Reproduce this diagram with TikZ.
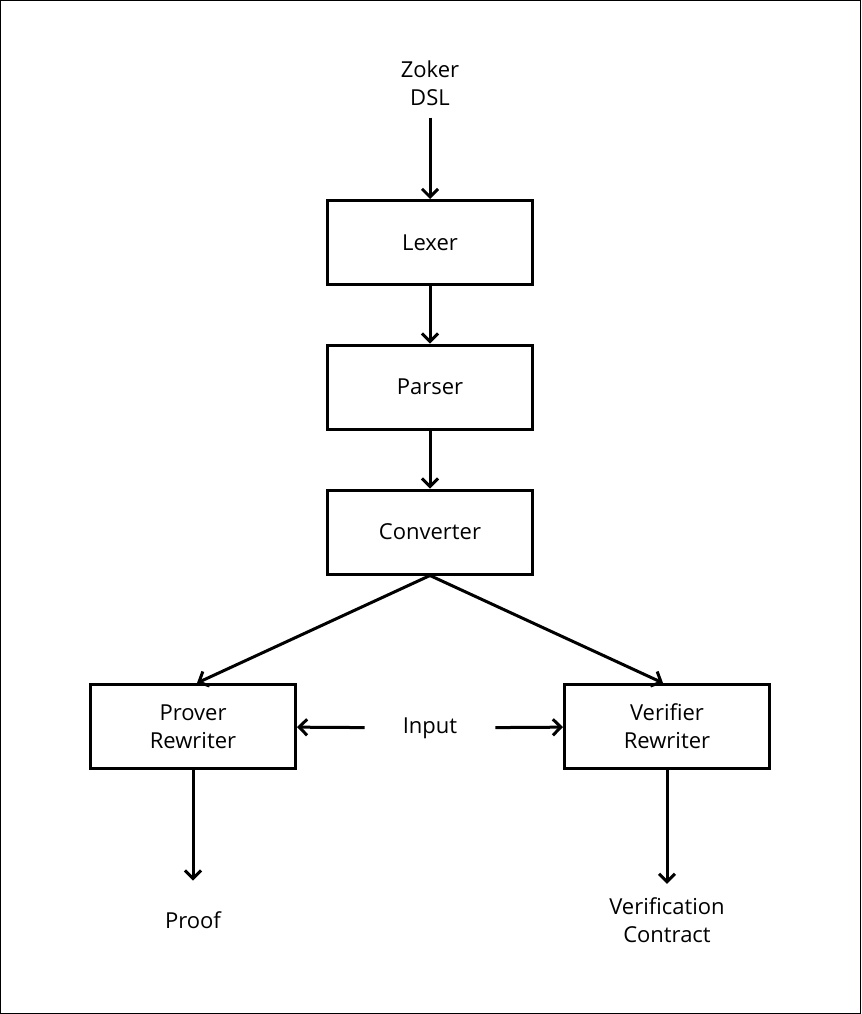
\documentclass[tikz,border=0pt]{standalone}
\usepackage{fontspec}
\setmainfont{Open Sans}
\usetikzlibrary{arrows.meta}
\tikzset{
  stage/.style={draw, line width=2.25pt, minimum width=153.75pt, minimum height=63pt, align=center, font=\fontsize{16.5}{21}\selectfont},
  txt/.style={align=center, font=\fontsize{16.5}{21}\selectfont},
  flow/.style={line width=2.25pt, -{Straight Barb[length=6pt,width=12pt,line width=2.25pt]}}
}
\begin{document}
\begin{tikzpicture}[x=0.75pt, y=-0.75pt]
		%%%%% START %%%%%
		\useasboundingbox (0,0) rectangle (861,1014);
		\draw[line width=0.75pt] (0.5,0.5) rectangle (860.5,1013.5);
		
		\node[txt, inner xsep=2pt, inner ysep=9pt] (dsl) at (430,83) {Zoker\\DSL};
		\node[stage] (lexer) at (430,242.5) {Lexer};
		\node[stage] (parser) at (430,387) {Parser};
		\node[stage] (conv) at (430,532) {Converter};
		\node[stage] (prover) at (193,726.5) {Prover\\Rewriter};
		\node[stage] (verifier) at (667,726.5) {Verifier\\Rewriter};
		\node[txt, inner xsep=28.5pt] (input) at (430,728) {Input};
		\node[txt, inner ysep=23pt] (proof) at (193,920) {Proof};
		\node[txt, inner ysep=10pt] (contract) at (667,920) {Verification\\Contract};
		
		\draw[flow] (dsl) -- (lexer);
		\draw[flow] (lexer) -- (parser);
		\draw[flow] (parser) -- (conv);
		\draw[flow] (conv.south) -- ([xshift=3pt]prover.north);
		\draw[flow] (conv.south) -- ([xshift=-3pt]verifier.north);
		\draw[flow] (input) -- (prover);
		\draw[flow] (input) -- (verifier);
		\draw[flow] (prover) -- (proof);
		\draw[flow] (verifier) -- (contract);
		
		%%%%% END %%%%%
\end{tikzpicture}
\end{document}
